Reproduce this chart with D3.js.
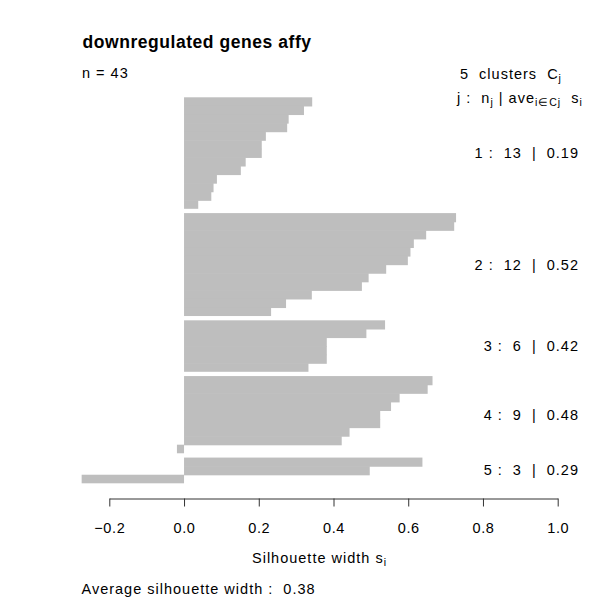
<!DOCTYPE html>
<html><head><meta charset="utf-8">
<script src="https://cdn.jsdelivr.net/npm/d3@7"></script>
<style>
body{margin:0;background:#fff;}
text{font-family:"Liberation Sans",Arial,Helvetica,sans-serif;fill:#000;letter-spacing:1px;}
</style></head>
<body><svg id="c" width="600" height="600"></svg>
<script>
const title = "downregulated genes affy";
const clusterIds = [1,2,3,4,5];
const cluster1 = [0.343,0.321,0.280,0.276,0.219,0.208,0.208,0.165,0.152,0.088,0.079,0.073,0.038];
const cluster2 = [0.728,0.723,0.648,0.615,0.606,0.599,0.541,0.494,0.476,0.342,0.273,0.233];
const cluster3 = [0.538,0.488,0.382,0.382,0.382,0.333];
const cluster4 = [0.665,0.652,0.577,0.554,0.525,0.525,0.443,0.422,-0.019];
const cluster5 = [0.638,0.497,-0.274];
const clusterAvgLabels = ["0.19","0.52","0.42","0.48","0.29"];
const avgWidthLabel = "0.38";
const xTicks = [-0.2,0.0,0.2,0.4,0.6,0.8,1.0];

const clusters = [cluster1,cluster2,cluster3,cluster4,cluster5];
const nTotal = d3.sum(clusters, c=>c.length);
const gap = 0.5;
const totalUnits = nTotal + gap*(clusters.length-1);

const svg = d3.select("#c");
const x = d3.scaleLinear().domain([-0.2,1.0]).range([109.3,557.7]);
const y = d3.scaleLinear().domain([0,totalUnits]).range([97.3,483.3]);

// bars
let pos = 0;
const bars = [], groups = [];
clusters.forEach((c,ci)=>{
  const start = pos;
  c.forEach((v,k)=>{ bars.push({v, p:pos, last:k===c.length-1}); pos += 1; });
  groups.push({id:clusterIds[ci], n:c.length, avg:clusterAvgLabels[ci], mid:(start+pos)/2});
  pos += gap;
});
svg.append("g").selectAll("rect").data(bars).join("rect")
  .attr("x", d=>x(Math.min(0,d.v)))
  .attr("width", d=>Math.abs(x(d.v)-x(0)))
  .attr("y", d=>y(d.p))
  .attr("height", d=>y(d.p+1)-y(d.p)+(d.last?0:0.6))
  .attr("fill","#bebebe");

// axis
const ax = svg.append("g").attr("transform","translate(0,498.5)")
  .call(d3.axisBottom(x).tickValues(xTicks).tickSize(8).tickSizeOuter(0).tickPadding(16).tickFormat(d3.format(".1f")));
ax.selectAll("path,line").attr("stroke","#333");
ax.selectAll("text").attr("font-size","14.5px").style("font-family","'Liberation Sans',Arial,sans-serif").style("letter-spacing","0.6px");

// title etc
svg.append("text").attr("x",82.5).attr("y",48).attr("font-size","17.5px").attr("font-weight","bold").style("letter-spacing","0.55px").text(title);
svg.append("text").attr("x",82).attr("y",78).attr("font-size","14.5px").text("n = " + nTotal);

const h1 = svg.append("text").attr("x",460).attr("y",79).attr("font-size","14.5px").attr("xml:space","preserve");
h1.append("tspan").text(clusters.length + "  clusters  C");
h1.append("tspan").attr("font-size","10.5px").attr("dy",3).text("j");

const h2 = svg.append("text").attr("x",457).attr("y",103).attr("font-size","14.5px").attr("xml:space","preserve");
h2.append("tspan").text("j :  n");
h2.append("tspan").attr("font-size","10.5px").attr("dy",3).text("j");
h2.append("tspan").attr("dy",-3).text(" | ave");
h2.append("tspan").attr("font-size","10.5px").attr("dy",3).text("i\u2208Cj");
h2.append("tspan").attr("dy",-3).text("  s");
h2.append("tspan").attr("font-size","10.5px").attr("dy",3).text("i");

svg.append("g").selectAll("text").data(groups).join("text")
  .attr("x",579).attr("y",d=>y(d.mid)+5).attr("text-anchor","end")
  .attr("font-size","14.5px").attr("xml:space","preserve")
  .text(d=>`${d.id} :  ${d.n}  |  ${d.avg}`);

const xl = svg.append("text").attr("x",x(0.3625)).attr("y",563).attr("text-anchor","middle").attr("font-size","14.5px");
xl.append("tspan").text("Silhouette width s");
xl.append("tspan").attr("font-size","10.5px").attr("dy",3).text("i");

svg.append("text").attr("x",81.5).attr("y",594).attr("font-size","14.5px").attr("xml:space","preserve")
  .text("Average silhouette width :  " + avgWidthLabel);
</script></body></html>
